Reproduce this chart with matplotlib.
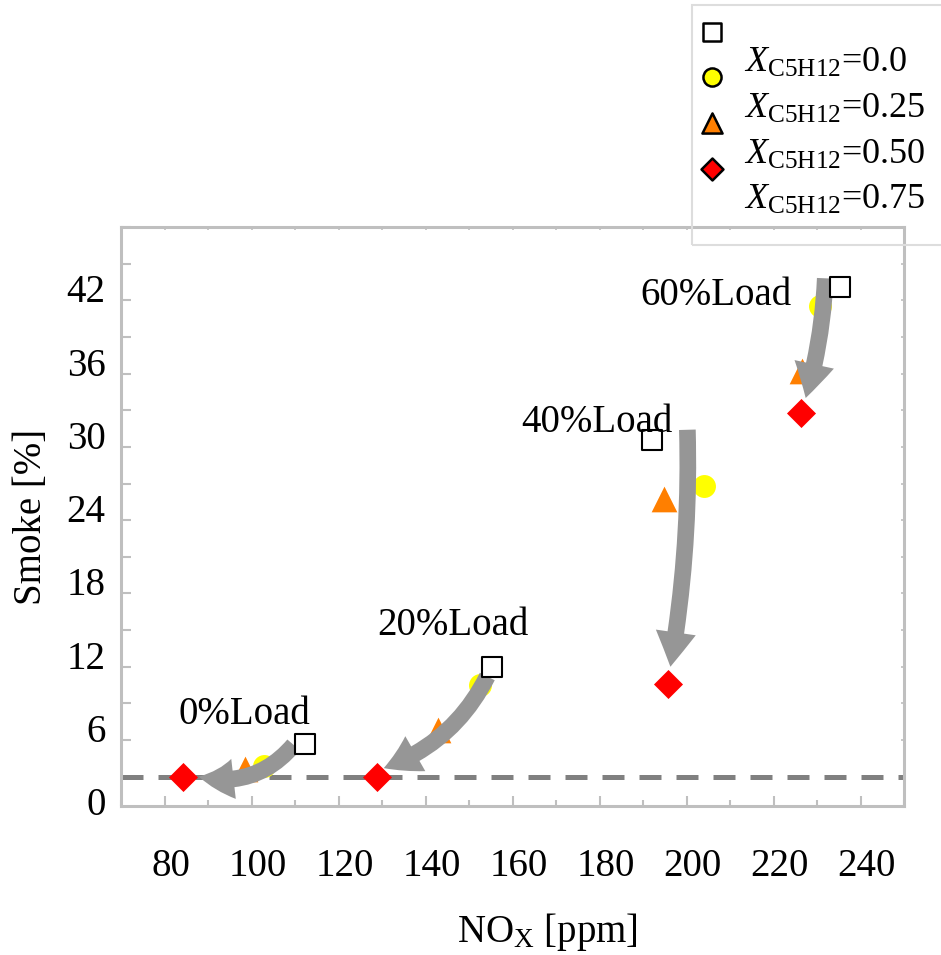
import matplotlib
matplotlib.use("Agg")
import matplotlib.pyplot as plt
from matplotlib.patches import FancyArrowPatch, Rectangle
from matplotlib.ticker import MultipleLocator
from matplotlib.transforms import ScaledTranslation

plt.rcParams["font.family"] = ["Liberation Serif", "DejaVu Serif"]
plt.rcParams["mathtext.fontset"] = "custom"
plt.rcParams["mathtext.rm"] = "Liberation Serif"
plt.rcParams["mathtext.it"] = "Liberation Serif:italic"

# NOx [ppm] / smoke [%] for each pentane mole fraction, loads 0/20/40/60 %
nox_000 = [112.2, 155.3, 192.1, 235.2]
smoke_000 = [5.7, 12.0, 30.6, 43.1]
nox_025 = [102.8, 152.6, 204.0, 230.8]
smoke_025 = [3.9, 10.5, 26.8, 41.5]
nox_050 = [98.6, 142.8, 194.9, 226.6]
smoke_050 = [3.6, 6.8, 25.7, 36.2]
nox_075 = [84.3, 128.9, 195.8, 226.4]
smoke_075 = [3.0, 3.0, 10.6, 32.8]

smoke_floor = 3.0

load_labels = ["0%Load", "20%Load", "40%Load", "60%Load"]
label_x = [98.4, 146.4, 179.5, 206.7]
label_y = [7.3, 14.6, 31.2, 41.6]

# arrow tails / tips (data units) and curvature
arrow_tail = [(109.7, 5.6), (154.2, 11.2), (200.2, 31.4), (231.9, 43.8)]
arrow_tip = [(87.9, 3.0), (130.4, 3.7), (196.3, 12.0), (227.4, 34.0)]
arrow_rad = [-0.3, -0.2, -0.05, -0.06]

legend_labels = [r"$X_{\mathrm{C5H12}}$=0.0", r"$X_{\mathrm{C5H12}}$=0.25",
                 r"$X_{\mathrm{C5H12}}$=0.50", r"$X_{\mathrm{C5H12}}$=0.75"]

SPINE = "#BFBFBF"
ARROW = "#969696"
FS = 28

fig = plt.figure(figsize=(9.41, 9.55), dpi=100)
ax = fig.add_axes([121 / 941, 1 - 806 / 955, 783 / 941, 579 / 955])

ax.axhline(smoke_floor, color="#808080", lw=3.6, dashes=(4.4, 3.0), zorder=2)

ax.scatter(nox_025, smoke_025, s=16.5 ** 2, marker="o", color="#FFFF00", lw=0, zorder=3)
ax.scatter(nox_050, smoke_050, s=18.5 ** 2, marker="^", color="#FF7F00", lw=0, zorder=3)
ax.scatter(nox_000, smoke_000, s=14.5 ** 2, marker="s", facecolor="white",
           edgecolor="black", lw=1.5, zorder=5)
ax.scatter(nox_075, smoke_075, s=14.8 ** 2, marker="D", color="#FF0000", lw=0, zorder=5)

for tail, tip, rad in zip(arrow_tail, arrow_tip, arrow_rad):
    arr = FancyArrowPatch(tail, tip, connectionstyle=f"arc3,rad={rad}",
                          arrowstyle="simple,head_width=29,head_length=25,tail_width=12",
                          mutation_scale=1, color=ARROW, lw=0, zorder=4,
                          shrinkA=0, shrinkB=0)
    ax.add_patch(arr)

for txt, x, y in zip(load_labels, label_x, label_y):
    ax.text(x, y, txt, fontsize=FS, ha="center", va="baseline", zorder=6)

ax.set_xlim(70, 250)
ax.set_ylim(0.6, 48)
ax.set_xticks(range(80, 241, 20))
ax.set_yticks(range(6, 43, 6))
ax.xaxis.set_minor_locator(MultipleLocator(10))
ax.yaxis.set_minor_locator(MultipleLocator(3))

for sp in ax.spines.values():
    sp.set_color(SPINE)
    sp.set_linewidth(2.2)

ax.tick_params(which="both", direction="in", color=SPINE, width=1.5, labelsize=FS)
ax.tick_params(axis="x", which="major", length=7.2, pad=30)
ax.tick_params(axis="x", which="minor", length=4.5)
ax.tick_params(axis="y", which="both", length=7.2, pad=11)

ax2 = ax.secondary_xaxis("top")
ax2.set_xticks(range(80, 241, 10))
ax2.tick_params(direction="in", length=2, width=1.2, color=SPINE, labeltop=False)
ax2.spines["top"].set_visible(False)
ax3 = ax.secondary_yaxis("right")
ax3.set_yticks(range(3, 48, 3))
ax3.tick_params(direction="in", length=2, width=1.2, color=SPINE, labelright=False)
ax3.spines["right"].set_visible(False)

# tick labels sit slightly off their ticks in the original
off_y = ScaledTranslation(0, 12 / 100, fig.dpi_scale_trans)
off_x = ScaledTranslation(6 / 100, 0, fig.dpi_scale_trans)
for lab in ax.get_yticklabels():
    lab.set_transform(lab.get_transform() + off_y)
for lab in ax.get_xticklabels():
    lab.set_transform(lab.get_transform() + off_x)
# "0" label sits just below the axis bottom
trans0, va0, ha0 = ax.get_yaxis_text1_transform(11)
ax.text(0, 0, "0", transform=trans0 + off_y, va=va0, ha=ha0, fontsize=FS, clip_on=False)

ax.set_ylabel("Smoke [%]", fontsize=FS, labelpad=12)
ax.set_xlabel(r"NO$_\mathrm{X}$ [ppm]", fontsize=FS)
ax.xaxis.set_label_coords(0.545, -0.182)

handles = [
    ax.scatter([], [], s=150, marker="s", facecolor="white", edgecolor="black", lw=1.8),
    ax.scatter([], [], s=170, marker="o", facecolor="#FFFF00", edgecolor="black", lw=1.8),
    ax.scatter([], [], s=210, marker="^", facecolor="#FF7F00", edgecolor="black", lw=1.8),
    ax.scatter([], [], s=125, marker="D", facecolor="#FF0000", edgecolor="black", lw=1.8),
]
leg = ax.legend(handles, legend_labels, loc="upper left",
                bbox_to_anchor=(692 / 941, 1 - 29 / 955), bbox_transform=fig.transFigure,
                borderaxespad=0, fontsize=26, scatterpoints=1, scatteryoffsets=[1.6],
                handlelength=0.1, handletextpad=0.85, borderpad=0.5,
                labelspacing=0.34, frameon=False)
fig.patches.append(Rectangle((692 / 941, 1 - 245 / 955), 260 / 941, 240 / 955,
                             transform=fig.transFigure, fill=False,
                             edgecolor="#DDDDDD", lw=1.5))

fig.savefig("out.png", dpi=100)
